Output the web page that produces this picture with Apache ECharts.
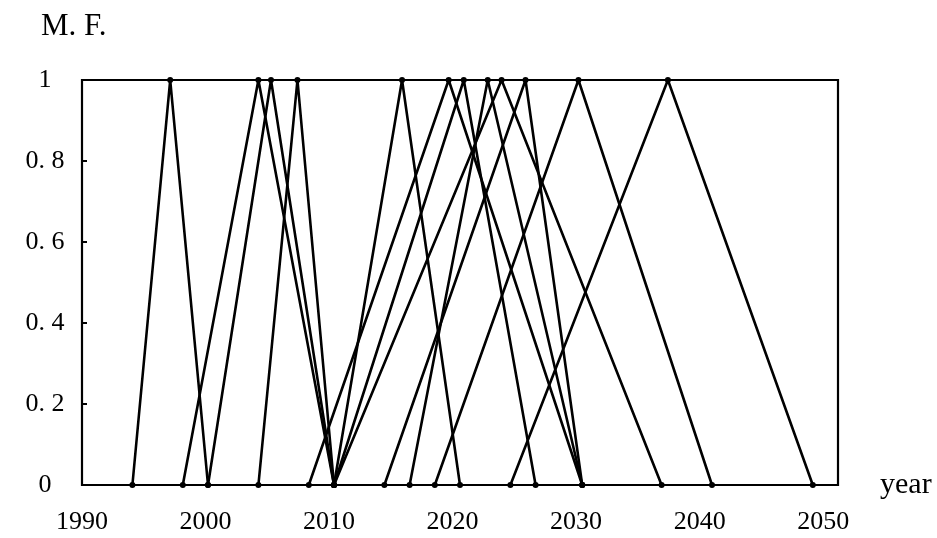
<!DOCTYPE html>
<html>
<head>
<meta charset="utf-8">
<script src="https://cdn.jsdelivr.net/npm/echarts@6/dist/echarts.min.js"></script>
<style>html,body{margin:0;padding:0;background:#fff}#c{width:937px;height:538px}</style>
</head>
<body>
<div id="c"></div>
<script>
// Triangular membership functions: left foot (M.F.=0), peak (M.F.=1), right foot (M.F.=0)
const leftYears  = [1994, 1998, 2000, 2004, 2010, 2008, 2010, 2016, 2010, 2014, 2018, 2024];
const peakYears  = [1997, 2004, 2005, 2007.1, 2015.4, 2019.1, 2020.3, 2022.2, 2023.3, 2025.2, 2029.4, 2036.5];
const rightYears = [2000, 2010, 2010, 2010, 2020, 2029.7, 2026, 2029.7, 2036, 2029.7, 2040, 2048];
const xTickYears = [1990, 2000, 2010, 2020, 2030, 2040, 2050];
const yTickValues = [0, 0.2, 0.4, 0.6, 0.8, 1];

const serif = "'Liberation Serif', 'DejaVu Serif', serif";
const series = peakYears.map((p, i) => ({
  type: 'line',
  xAxisIndex: 0,
  data: [[leftYears[i], 0], [p, 1], [rightYears[i], 0]],
  symbol: 'circle',
  symbolSize: 6,
  lineStyle: { color: '#000', width: 2.6 },
  itemStyle: { color: '#000' },
  silent: true,
  animation: false
}));

const chart = echarts.init(document.getElementById('c'), null, { renderer: 'canvas' });
chart.setOption({
  backgroundColor: '#fff',
  animation: false,
  title: {
    text: 'M. F.', left: 36, top: 6,
    textStyle: { fontFamily: serif, fontSize: 31, fontWeight: 'normal', color: '#000' }
  },
  grid: { left: 82, right: 99, top: 80, bottom: 53, show: true, borderColor: '#000', borderWidth: 2.2 },
  xAxis: [
    {
      type: 'value', min: xTickYears[0], max: xTickYears[xTickYears.length - 1], interval: 10,
      axisLine: { show: false }, axisTick: { show: false }, splitLine: { show: false },
      axisLabel: { show: false },
      name: 'year', nameLocation: 'end', nameGap: 42,
      nameTextStyle: { fontFamily: serif, fontSize: 30, color: '#000', verticalAlign: 'middle', align: 'left' }
    },
    {
      type: 'value', min: 1990, max: 2051.2, interval: 10, position: 'bottom',
      axisLine: { show: false }, axisTick: { show: false }, splitLine: { show: false },
      axisLabel: {
        margin: 24, fontFamily: serif, fontSize: 26, color: '#000',
        formatter: v => (xTickYears.indexOf(Math.round(v)) >= 0 && Math.abs(v - Math.round(v)) < 1e-6) ? String(Math.round(v)) : ''
      }
    }
  ],
  yAxis: {
    type: 'value', min: 0, max: 1, interval: 0.2,
    axisLine: { show: false },
    axisTick: { show: true, inside: true, length: 5, lineStyle: { color: '#000', width: 2 } },
    splitLine: { show: false },
    axisLabel: {
      margin: 37, align: 'center', fontFamily: serif, fontSize: 26, color: '#000',
      formatter: v => {
        const r = Math.round(v * 10) / 10;
        if (r === 0) return '0';
        if (r === 1) return '1';
        return '0. ' + Math.round(r * 10);
      }
    }
  },
  series: series
});
</script>
</body>
</html>
